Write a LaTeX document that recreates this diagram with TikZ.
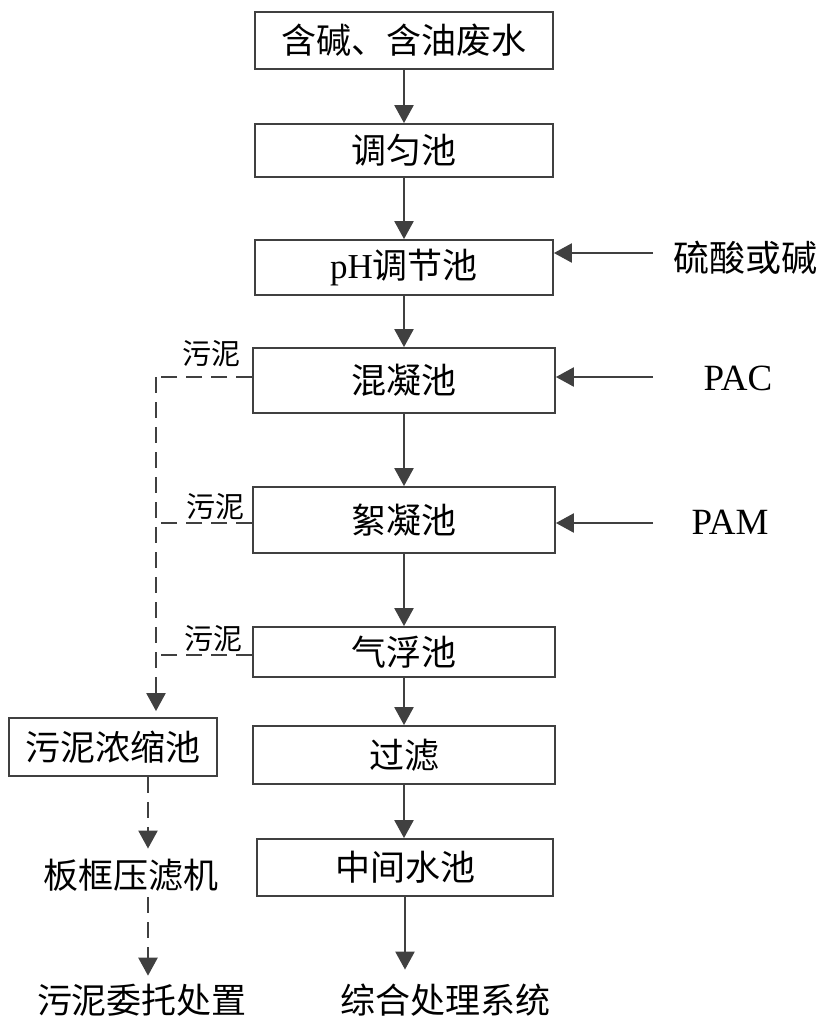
\documentclass[tikz,border=0pt]{standalone}
\usepackage{fontspec}
\setmainfont{Liberation Serif}
\newfontfamily\cjk{Noto Sans CJK SC}
\usetikzlibrary{arrows.meta}
\definecolor{lc}{HTML}{404040}
\begin{document}
\begin{tikzpicture}[x=1pt,y=-1pt,
  box/.style={draw=lc, line width=1.8pt, fill=white, minimum width=298pt, minimum height=55pt,
    inner sep=0pt, font=\fontsize{35}{40}\selectfont\cjk, text=black},
  lbl/.style={inner sep=0pt, font=\fontsize{35}{40}\selectfont\cjk, text=black},
  small/.style={inner sep=0pt, font=\fontsize{29}{32}\selectfont\cjk, text=black},
  lat/.style={inner sep=0pt, font=\fontsize{37}{40}\selectfont, text=black},
  arr/.style={draw=lc, line width=2.4pt, -{Triangle[length=18pt,width=19pt]}},
  dsh/.style={arr, dash pattern=on 16pt off 9pt},
  dln/.style={draw=lc, line width=2.4pt, dash pattern=on 16pt off 9pt}]
\useasboundingbox (0,0) rectangle (825,1021);
% main column
\node[box, minimum height=57pt] (m1) at (404,40.5) {含碱、含油废水};
\node[box, minimum height=53pt] (m2) at (404,150.5) {调匀池};
\node[box] (m3) at (404,267.5) {{\fontspec{Liberation Serif}pH}调节池};
\node[box, minimum width=302pt, minimum height=65pt] (m4) at (404,380.5) {混凝池};
\node[box, minimum width=302pt, minimum height=66pt] (m5) at (404,520) {絮凝池};
\node[box, minimum width=302pt, minimum height=50pt] (m6) at (404,652) {气浮池};
\node[box, minimum width=302pt, minimum height=58pt] (m7) at (404,755) {过滤};
\node[box, minimum width=296pt, minimum height=57pt] (m8) at (405,867.5) {中间水池};
\node[lbl] (sys) at (445,1000) {综合处理系统};
\draw[arr] (m1) -- (m2);
\draw[arr] (m2) -- (m3);
\draw[arr] (m3) -- (m4);
\draw[arr] (m4) -- (m5);
\draw[arr] (m5) -- (m6);
\draw[arr] (m6) -- (m7);
\draw[arr] (m7.south) -- (m7.south |- m8.north);
\draw[arr, shorten >=14pt] (m8.south) -- (m8.south |- sys.north);
% chemical inputs
\node[lbl, font=\fontsize{36}{40}\selectfont\cjk] (acid) at (745,258) {硫酸或碱};
\node[lat] (pac) at (738,378) {PAC};
\node[lat] (pam) at (730,522) {PAM};
\coordinate (r1) at (653,253);
\coordinate (r2) at (653,377);
\coordinate (r3) at (653,523);
\draw[arr] (r1) -- (m3.east |- r1);
\draw[arr] (r2) -- (m4.east |- r2);
\draw[arr] (r3) -- (m5.east |- r3);
% sludge line
\node[box, minimum width=208pt, minimum height=58pt] (sb) at (113,747) {污泥浓缩池};
\coordinate (d1) at (156,377);
\coordinate (d2) at (156,523);
\coordinate (d3) at (156,655);
\draw[dln] (m4.west |- d1) -- (d1);
\draw[dsh, shorten >=6pt] (d1) -- (d1 |- sb.north);
\draw[dln] (m5.west |- d2) -- (d2);
\draw[dln] (m6.west |- d3) -- (d3);
\node[small] (s1) at (211,354) {污泥};
\node[small] (s2) at (215,507) {污泥};
\node[small] (s3) at (213,639) {污泥};
\node[lbl] (press) at (131,875) {板框压滤机};
\node[lbl] (disp) at (142,1000) {污泥委托处置};
\draw[dsh, shorten >=10pt] (sb.south -| 148,0) -- (148,0 |- press.north);
\draw[dsh, shorten >=8pt, shorten <=6pt] (148,0 |- press.south) -- (148,0 |- disp.north);
\end{tikzpicture}
\end{document}
